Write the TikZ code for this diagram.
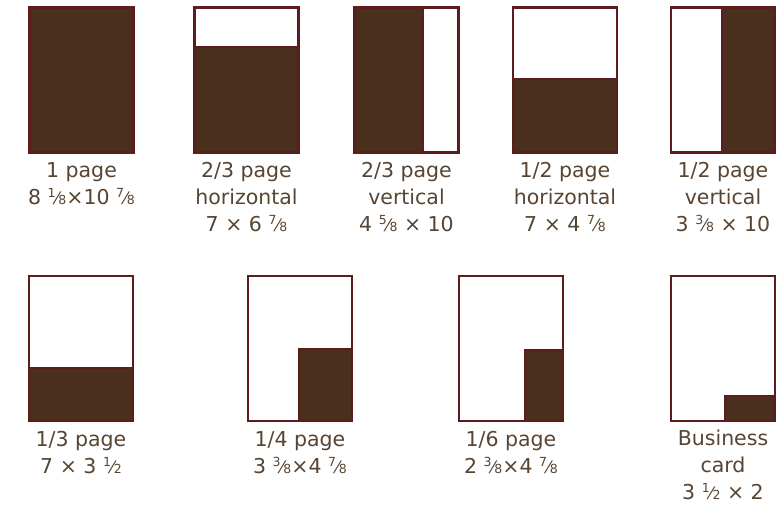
\documentclass[tikz,border=0pt]{standalone}
\usepackage{fontspec}
\setmainfont{DejaVu Sans}
\definecolor{fillbrown}{RGB}{74,47,29}
\definecolor{edgered}{RGB}{92,28,30}
\definecolor{txtbrown}{RGB}{88,68,50}
\newcommand{\frc}[2]{\raisebox{0.34em}{\fontsize{12.5}{12.5}\selectfont #1}{\fontsize{17}{17}\selectfont ⁄}{\fontsize{12.5}{12.5}\selectfont #2}}
\tikzset{
  pagebox/.style={draw=edgered, line width=2.4pt, fill=white, minimum width=104pt, minimum height=145pt, inner sep=0pt, outer sep=0pt},
  adpart/.style={draw=edgered, line width=2.4pt, fill=fillbrown},
  label/.style={text=txtbrown, font=\fontsize{20.5}{27}\selectfont, align=center, anchor=north, inner sep=0pt}
}
\begin{document}
\begin{tikzpicture}[x=1pt,y=-1pt]
\useasboundingbox (0,0) rectangle (781,504);
% top row
\node[pagebox] (p1) at (81.5,80) {};
\node[pagebox] (p2) at (246.5,80) {};
\node[pagebox] (p3) at (406.5,80) {};
\node[pagebox] (p4) at (565,80) {};
\node[pagebox] (p5) at (723,80) {};
% bottom row
\node[pagebox] (p6) at (81,348.5) {};
\node[pagebox] (p7) at (300,348.5) {};
\node[pagebox] (p8) at (511,348.5) {};
\node[pagebox] (p9) at (723,348.5) {};
% ad areas
\draw[adpart] (p1.north west) rectangle (p1.south east);
\draw[adpart] (p2.west |- 0,47) rectangle (p2.south east);
\draw[adpart] (p3.north west) rectangle (p3.south west -| 423,0);
\draw[adpart] (p4.west |- 0,79) rectangle (p4.south east);
\draw[adpart] (p5.north east) rectangle (p5.south west -| 722,0);
\draw[adpart] (p6.west |- 0,368) rectangle (p6.south east);
\draw[adpart] (p7.south east) rectangle (299,349);
\draw[adpart] (p8.south east) rectangle (525,350);
\draw[adpart] (p9.south east) rectangle (725,396);
% labels
\node[label] (l1) at (p1.south |- 0,162) {1 page\\8 \frc{1}{8}×10 \frc{7}{8}};
\node[label] (l2) at (p2.south |- 0,162) {2/3 page\\horizontal\\7 × 6 \frc{7}{8}};
\node[label] (l3) at (p3.south |- 0,162) {2/3 page\\vertical\\4 \frc{5}{8} × 10};
\node[label] (l4) at (p4.south |- 0,162) {1/2 page\\horizontal\\7 × 4 \frc{7}{8}};
\node[label] (l5) at (p5.south |- 0,162) {1/2 page\\vertical\\3 \frc{3}{8} × 10};
\node[label] (l6) at (p6.south |- 0,431) {1/3 page\\7 × 3 \frc{1}{2}};
\node[label] (l7) at (p7.south |- 0,431) {1/4 page\\3 \frc{3}{8}×4 \frc{7}{8}};
\node[label] (l8) at (p8.south |- 0,431) {1/6 page\\2 \frc{3}{8}×4 \frc{7}{8}};
\node[label] (l9) at (p9.south |- 0,430) {Business\\card\\3 \frc{1}{2} × 2};
\end{tikzpicture}
\end{document}
